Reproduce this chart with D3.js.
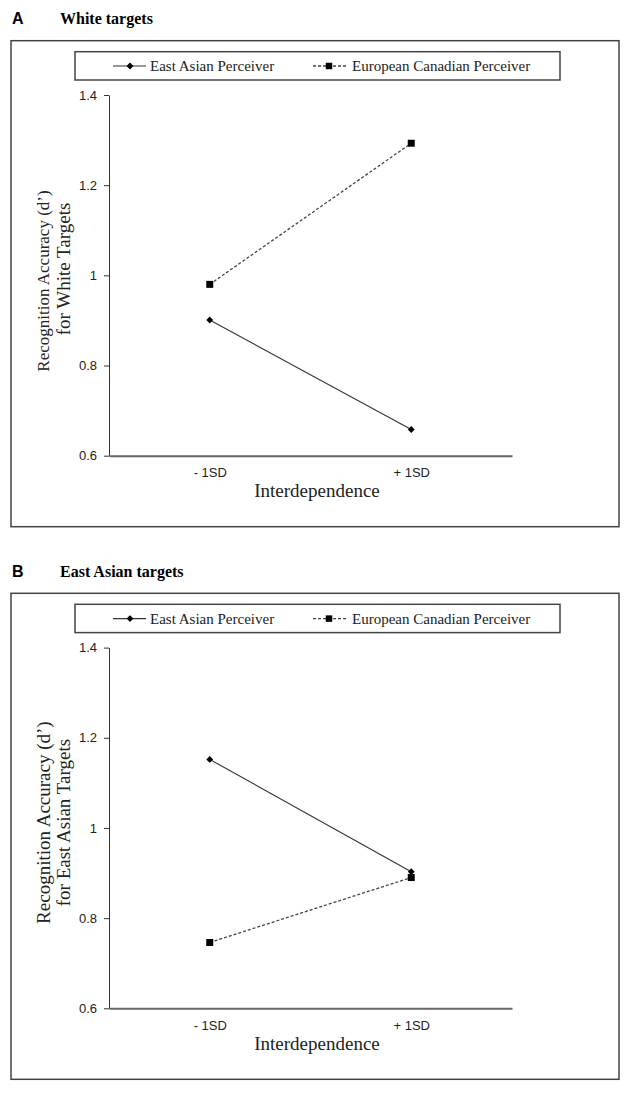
<!DOCTYPE html>
<html>
<head>
<meta charset="utf-8">
<script src="https://cdn.jsdelivr.net/npm/d3@7"></script>
<style>
  body { margin: 0; background: #fff; }
</style>
</head>
<body>
<script>
(function() {
    // values
    let categories = ["- 1SD", "+ 1SD"];
    let yTickValues = [0.6, 0.8, 1, 1.2, 1.4];
    let seriesNames = ["East Asian Perceiver", "European Canadian Perceiver"];
    let panelLetters = ["A", "B"];
    let panelTitles = ["White targets", "East Asian targets"];
    let yTitlesA = ["Recognition Accuracy (d\u2019)", "for White Targets"];
    let yTitlesB = ["Recognition Accuracy (d\u2019)", "for East Asian Targets"];
    let xTitle = "Interdependence";

    let whiteEastAsian = [0.901, 0.658];
    let whiteEuropean = [0.980, 1.293];
    let asianEastAsian = [1.152, 0.903];
    let asianEuropean = [0.746, 0.890];

    let w = 626;
    let h = 1093;
    let serif = "'Liberation Serif', 'Times New Roman', serif";
    let sans = "'Liberation Sans', Arial, sans-serif";

    let svg = d3.select("body")
        .append("svg")
        .attr("width", w)
        .attr("height", h);

    let diamond = d3.symbolDiamond2 || d3.symbolDiamond;

    let drawPanel = (idx, eastVals, euroVals, yTitles, top, ySizes, yCenters) => {
        let g = svg.append("g").attr("transform", "translate(0," + top + ")");

        g.append("text")
            .attr("x", 12).attr("y", 24)
            .attr("font-family", sans).attr("font-weight", "bold").attr("font-size", 16)
            .text(panelLetters[idx]);
        g.append("text")
            .attr("x", 60).attr("y", 24)
            .attr("font-family", serif).attr("font-weight", "bold").attr("font-size", 16)
            .text(panelTitles[idx]);

        // outer frame
        g.append("rect")
            .attr("x", 11).attr("y", 40.7)
            .attr("width", 608).attr("height", 486)
            .attr("fill", "none").attr("stroke", "#444").attr("stroke-width", 1.5);

        let x = d3.scalePoint().domain(categories).range([109, 512]).padding(0.5);
        let y = d3.scaleLinear().domain([0.6, 1.4]).range([455.7, 95]);

        // y axis
        let yAxis = g.append("g")
            .attr("transform", "translate(109,0)")
            .call(d3.axisLeft(y).tickValues(yTickValues).tickSize(5).tickSizeOuter(0)
                .tickPadding(7).tickFormat((d) => String(d)));
        yAxis.select(".domain").attr("stroke", "#333");
        yAxis.selectAll(".tick line").attr("stroke", "#333");
        yAxis.selectAll("text").attr("font-family", sans).attr("font-size", 13).attr("fill", "#222");

        // x axis
        let xAxis = g.append("g")
            .attr("transform", "translate(0,455.7)")
            .call(d3.axisBottom(x).tickSize(0).tickSizeOuter(0).tickPadding(12));
        xAxis.select(".domain").attr("stroke", "#666").attr("stroke-width", 2);
        xAxis.selectAll("text").attr("font-family", sans).attr("font-size", 13).attr("fill", "#222");

        g.append("text")
            .attr("x", 317).attr("y", 497)
            .attr("text-anchor", "middle")
            .attr("font-family", serif).attr("font-size", 19).attr("fill", "#222")
            .text(xTitle);

        yTitles.forEach((t, i) => {
            g.append("text")
                .attr("transform", "translate(" + (43 + i * 20) + "," + yCenters[i] + ") rotate(-90)")
                .attr("text-anchor", "middle")
                .attr("dy", "0.35em")
                .attr("font-family", serif).attr("font-size", ySizes[i]).attr("fill", "#222")
                .text(t);
        });

        // series
        let line = d3.line().x((d, i) => x(categories[i])).y((d) => y(d));

        g.append("path")
            .datum(eastVals)
            .attr("d", line)
            .attr("fill", "none").attr("stroke", "#333").attr("stroke-width", 1.1);
        g.append("path")
            .datum(euroVals)
            .attr("d", line)
            .attr("fill", "none").attr("stroke", "#444").attr("stroke-width", 1.3)
            .attr("stroke-dasharray", "3,2");

        g.selectAll(".ea")
            .data(eastVals)
            .enter()
            .append("path")
            .attr("class", "ea")
            .attr("transform", (d, i) => "translate(" + x(categories[i]) + "," + y(d) + ")")
            .attr("d", d3.symbol().type(diamond).size(30))
            .attr("fill", "#000");
        g.selectAll(".ec")
            .data(euroVals)
            .enter()
            .append("path")
            .attr("class", "ec")
            .attr("transform", (d, i) => "translate(" + x(categories[i]) + "," + y(d) + ")")
            .attr("d", d3.symbol().type(d3.symbolSquare).size(49))
            .attr("fill", "#000");

        // legend
        let lg = g.append("g");
        lg.append("rect")
            .attr("x", 75).attr("y", 51.7)
            .attr("width", 485).attr("height", 28.3)
            .attr("fill", "#fff").attr("stroke", "#444").attr("stroke-width", 1.5);
        let ly = 66;
        lg.append("line")
            .attr("x1", 113).attr("x2", 146).attr("y1", ly).attr("y2", ly)
            .attr("stroke", "#333").attr("stroke-width", 1.1);
        lg.append("path")
            .attr("transform", "translate(130," + ly + ")")
            .attr("d", d3.symbol().type(diamond).size(30))
            .attr("fill", "#000");
        lg.append("line")
            .attr("x1", 313).attr("x2", 347).attr("y1", ly).attr("y2", ly)
            .attr("stroke", "#444").attr("stroke-width", 1.3).attr("stroke-dasharray", "3,2");
        lg.append("path")
            .attr("transform", "translate(329," + ly + ")")
            .attr("d", d3.symbol().type(d3.symbolSquare).size(42))
            .attr("fill", "#000");
        [150, 352].forEach((lx, i) => {
            lg.append("text")
                .attr("x", lx).attr("y", ly + 5)
                .attr("font-family", serif).attr("font-size", 15).attr("fill", "#222")
                .text(seriesNames[i]);
        });
    };

    drawPanel(0, whiteEastAsian, whiteEuropean, yTitlesA, 0, [17, 19], [281, 269]);
    drawPanel(1, asianEastAsian, asianEuropean, yTitlesB, 552.6, [19, 19], [270, 270]);
})();
</script>
</body>
</html>
